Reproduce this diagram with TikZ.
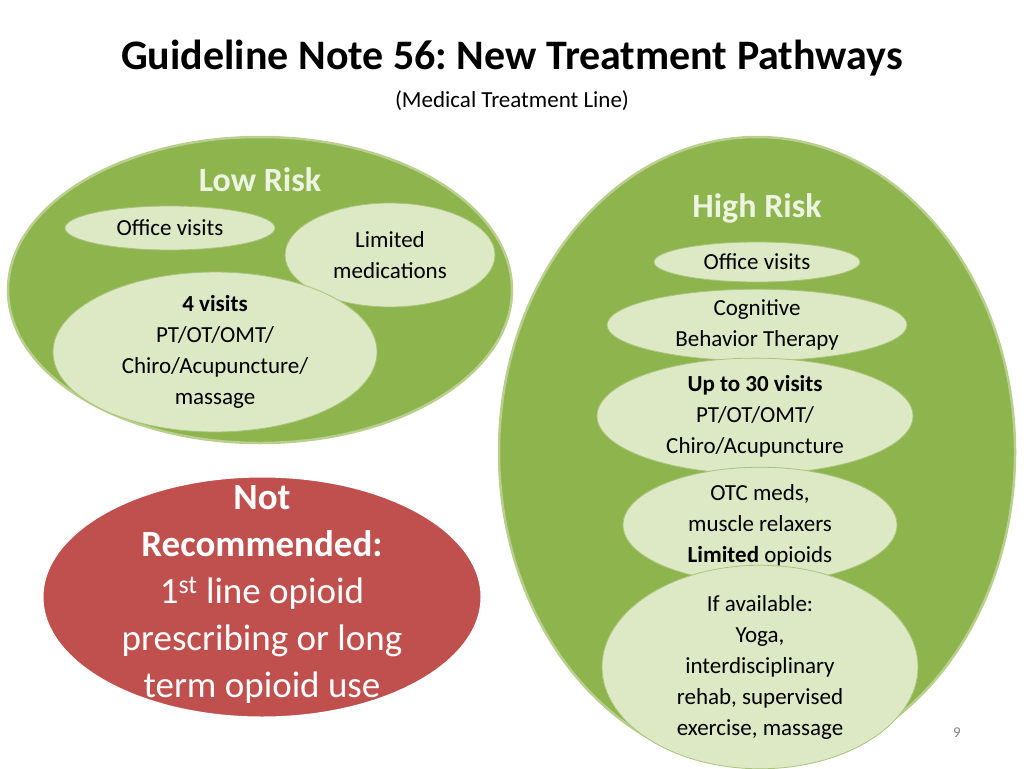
\documentclass[tikz,border=0pt]{standalone}
\usepackage{fontspec}
\setmainfont{Carlito}
\frenchspacing
\usetikzlibrary{shapes.geometric}
\definecolor{olive}{HTML}{8EB44D}
\definecolor{oliveedge}{HTML}{B9CF8E}
\definecolor{pale}{HTML}{DCE9C4}
\definecolor{paleedge}{HTML}{A9C47A}
\definecolor{redfill}{HTML}{C0504D}
\definecolor{headtext}{HTML}{EEF4E2}
\begin{document}
\begin{tikzpicture}[x=1pt,y=-1pt,
    group/.style={ellipse, draw=oliveedge, line width=2.5pt, fill=olive, inner sep=0pt},
    item/.style={ellipse, draw=paleedge, line width=0.8pt, fill=pale, inner sep=0pt,
      align=center, font=\fontsize{23}{31}\selectfont},
    head/.style={font=\fontsize{34}{38}\selectfont\bfseries, text=headtext}
    ]
    \useasboundingbox (0,0) rectangle (1024,768);

    % Title
    \node[font=\fontsize{42}{46}\selectfont\bfseries] (title) at (512,58) {Guideline Note 56: New Treatment Pathways};
    \node[font=\fontsize{23}{26}\selectfont] (subtitle) at (512,101) {(Medical Treatment Line)};

    % Groups
    \node[group, minimum width=504, minimum height=306] (low) at (260,290) {};
    \node[group, minimum width=516, minimum height=630] (high) at (757,452) {};
    \node[ellipse, draw=white, line width=3pt, fill=redfill, minimum width=440, minimum height=242, inner sep=0pt] (notrec) at (262,597) {};

    % Low risk
    \node[head] (lowhead) at (260,180) {Low Risk};
    \node[item, minimum width=210, minimum height=44] (lowoffice) at (170,228) {Office visits};
    \node[item, minimum width=210, minimum height=104] (lowmeds) at (390,255) {Limited\\medications};
    \node[item, minimum width=324, minimum height=136] (lowvisits) at (215,352) {\textbf{4 visits}\\PT/OT/OMT/\\Chiro/Acupuncture/\\massage};

    % High risk
    \node[head] (highhead) at (757,208) {High Risk};
    \node[item, minimum width=206, minimum height=40] (highoffice) at (757,262) {Office visits};
    \node[item, minimum width=300, minimum height=70] (cbt) at (757,325) {Cognitive\\Behavior Therapy};
    \node[item, minimum width=316, minimum height=100] (highvisits) at (755,416) {\textbf{Up to 30 visits}\\PT/OT/OMT/\\Chiro/Acupuncture};
    \node[item, minimum width=274, minimum height=100] (otc) at (760,525) {OTC meds,\\muscle relaxers\\\textbf{Limited} opioids};
    \node[item, minimum width=316, minimum height=160] (extra) at (760,667) {If available:\\Yoga,\\interdisciplinary\\rehab, supervised\\exercise, massage};

    % Not recommended
    \node[align=center, text=white, font=\fontsize{37}{47}\selectfont] (notrectext) at (262,594)
      {\textbf{Not}\\\textbf{Recommended:}\\1\textsuperscript{st} line opioid\\prescribing or long\\term opioid use};

    % Page number
    \node[text=gray, font=\fontsize{15}{16}\selectfont] (page) at (957,733) {9};
\end{tikzpicture}
\end{document}
